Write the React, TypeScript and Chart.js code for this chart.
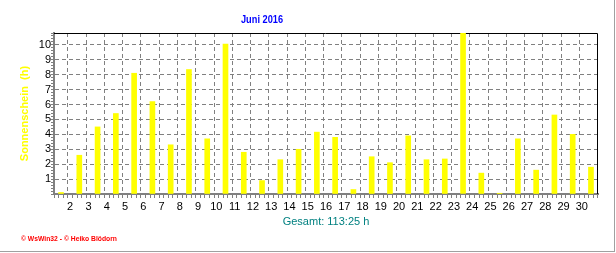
import React, { useEffect, useRef } from "react";
import { Chart, registerables } from "chart.js";

Chart.register(...registerables);

// ---- data ----
const days = [1, 2, 3, 4, 5, 6, 7, 8, 9, 10, 11, 12, 13, 14, 15, 16, 17, 18, 19, 20, 21, 22, 23, 24, 25, 26, 27, 28, 29, 30];
const sunshineHours = [0.1, 2.6, 4.5, 5.4, 8.1, 6.2, 3.3, 8.35, 3.7, 10.05, 2.8, 0.9, 2.3, 3.0, 4.15, 3.8, 0.3, 2.5, 2.1, 3.9, 2.3, 2.35, 12.8, 1.4, 0.05, 3.7, 1.6, 5.3, 4.0, 1.8];
const xTickLabels = [2, 3, 4, 5, 6, 7, 8, 9, 10, 11, 12, 13, 14, 15, 16, 17, 18, 19, 20, 21, 22, 23, 24, 25, 26, 27, 28, 29, 30];
const yTickLabels = [1, 2, 3, 4, 5, 6, 7, 8, 9, 10];
const chartTitle = "Juni 2016";
const yTitle = "Sonnenschein  (h)";
const xTitle = "Gesamt: 113:25 h";
const creditText = "\u00A9 WsWin32 - \u00A9 Heiko Bl\u00F6dorn";

const FONT = "Arial, 'Liberation Sans', sans-serif";
const GRID = "#808080";

const isLabelValue = (list: number[], v: number) =>
  list.some((l) => Math.abs(l - v) < 1e-6);

const decorPlugin = {
  id: "decor",
  beforeDatasetsDraw(chart: any) {
    const { ctx, chartArea } = chart;
    ctx.save();
    ctx.strokeStyle = "#000000";
    ctx.lineWidth = 1;
    ctx.beginPath();
    ctx.moveTo(chartArea.left, chartArea.top + 0.5);
    ctx.lineTo(chartArea.right - 0.5, chartArea.top + 0.5);
    ctx.lineTo(chartArea.right - 0.5, chartArea.bottom);
    ctx.stroke();
    ctx.restore();
  },
  afterDraw(chart: any) {
    const { ctx } = chart;
    ctx.save();
    ctx.fillStyle = "#0000ff";
    ctx.font = `bold 11px ${FONT}`;
    ctx.textAlign = "center";
    ctx.textBaseline = "alphabetic";
    ctx.fillText(chartTitle, 262, 23, 42);
    ctx.fillStyle = "#ff0000";
    ctx.font = `bold 7px ${FONT}`;
    ctx.textAlign = "left";
    ctx.fillText(creditText, 21, 241, 96);
    ctx.restore();
  },
};

export default function App() {
  const ref = useRef<HTMLCanvasElement | null>(null);

  useEffect(() => {
    if (!ref.current) return;
    const chart = new Chart(ref.current, {
      type: "bar",
      data: {
        datasets: [
          {
            data: days.map((d, i) => ({ x: d + 0.5, y: sunshineHours[i] })),
            backgroundColor: "#ffff00",
            borderWidth: 0,
            barThickness: 5,
            grouped: false,
          } as any,
        ],
      },
      options: {
        responsive: false,
        animation: false,
        devicePixelRatio: 1,
        layout: { padding: { left: 0, top: 33, right: 18, bottom: 0 } },
        plugins: {
          legend: { display: false },
          tooltip: { enabled: false },
          title: { display: false },
        },
        scales: {
          x: {
            type: "linear",
            min: 1.24,
            max: 30.76,
            afterBuildTicks: (axis: any) => {
              const t: any[] = [];
              for (let i = 5; i <= 123; i++) t.push({ value: i / 4 });
              axis.ticks = t;
            },
            afterFit: (scale: any) => {
              scale.height = 59;
            },
            ticks: {
              autoSkip: false,
              maxRotation: 0,
              minRotation: 0,
              padding: 2,
              color: "#000000",
              font: { family: FONT, size: 11 },
              callback: (v: any) => (isLabelValue(xTickLabels, Number(v)) ? String(Math.round(Number(v))) : ""),
            },
            grid: {
              color: (c: any) => (c.tick && isLabelValue(xTickLabels, c.tick.value) ? GRID : "rgba(0,0,0,0)"),
              tickColor: GRID,
              tickLength: 4,
              lineWidth: 1,
            },
            border: { color: GRID, width: 2, dash: [4, 3] },
            title: {
              display: true,
              text: xTitle,
              color: "#008080",
              font: { family: FONT, size: 11 },
              padding: { top: 0, bottom: 24 },
            },
          },
          y: {
            min: 0,
            max: 10.8,
            afterBuildTicks: (axis: any) => {
              const t: any[] = [];
              for (let i = 0; i <= 54; i++) t.push({ value: i / 5 });
              axis.ticks = t;
            },
            afterFit: (scale: any) => {
              scale.width = 54;
            },
            ticks: {
              autoSkip: false,
              padding: 0,
              color: "#000000",
              font: { family: FONT, size: 11 },
              callback: (v: any) => (isLabelValue(yTickLabels, Number(v)) ? String(Math.round(Number(v))) : ""),
            },
            grid: {
              color: (c: any) => (c.tick && isLabelValue(yTickLabels, c.tick.value) ? GRID : "rgba(0,0,0,0)"),
              tickColor: GRID,
              tickLength: 3,
              lineWidth: 1,
            },
            border: { color: GRID, width: 2, dash: [4, 3] },
            title: {
              display: true,
              text: yTitle,
              color: "#ffff00",
              font: { family: FONT, size: 11, weight: "bold" },
              padding: { top: 18, bottom: 0 },
            },
          },
        },
      } as any,
      plugins: [decorPlugin],
    });
    return () => chart.destroy();
  }, []);

  return (
    <div style={{ position: "fixed", left: 0, top: 0, width: 616, height: 253, background: "#ffffff" }}>
      <canvas ref={ref} width={616} height={253} style={{ display: "block" }} />
      <div
        style={{
          position: "absolute",
          left: 0,
          top: 0,
          width: 614,
          height: 251,
          borderRight: "1px solid #a0a0a0",
          borderBottom: "1px solid #a0a0a0",
          pointerEvents: "none",
        }}
      />
    </div>
  );
}
